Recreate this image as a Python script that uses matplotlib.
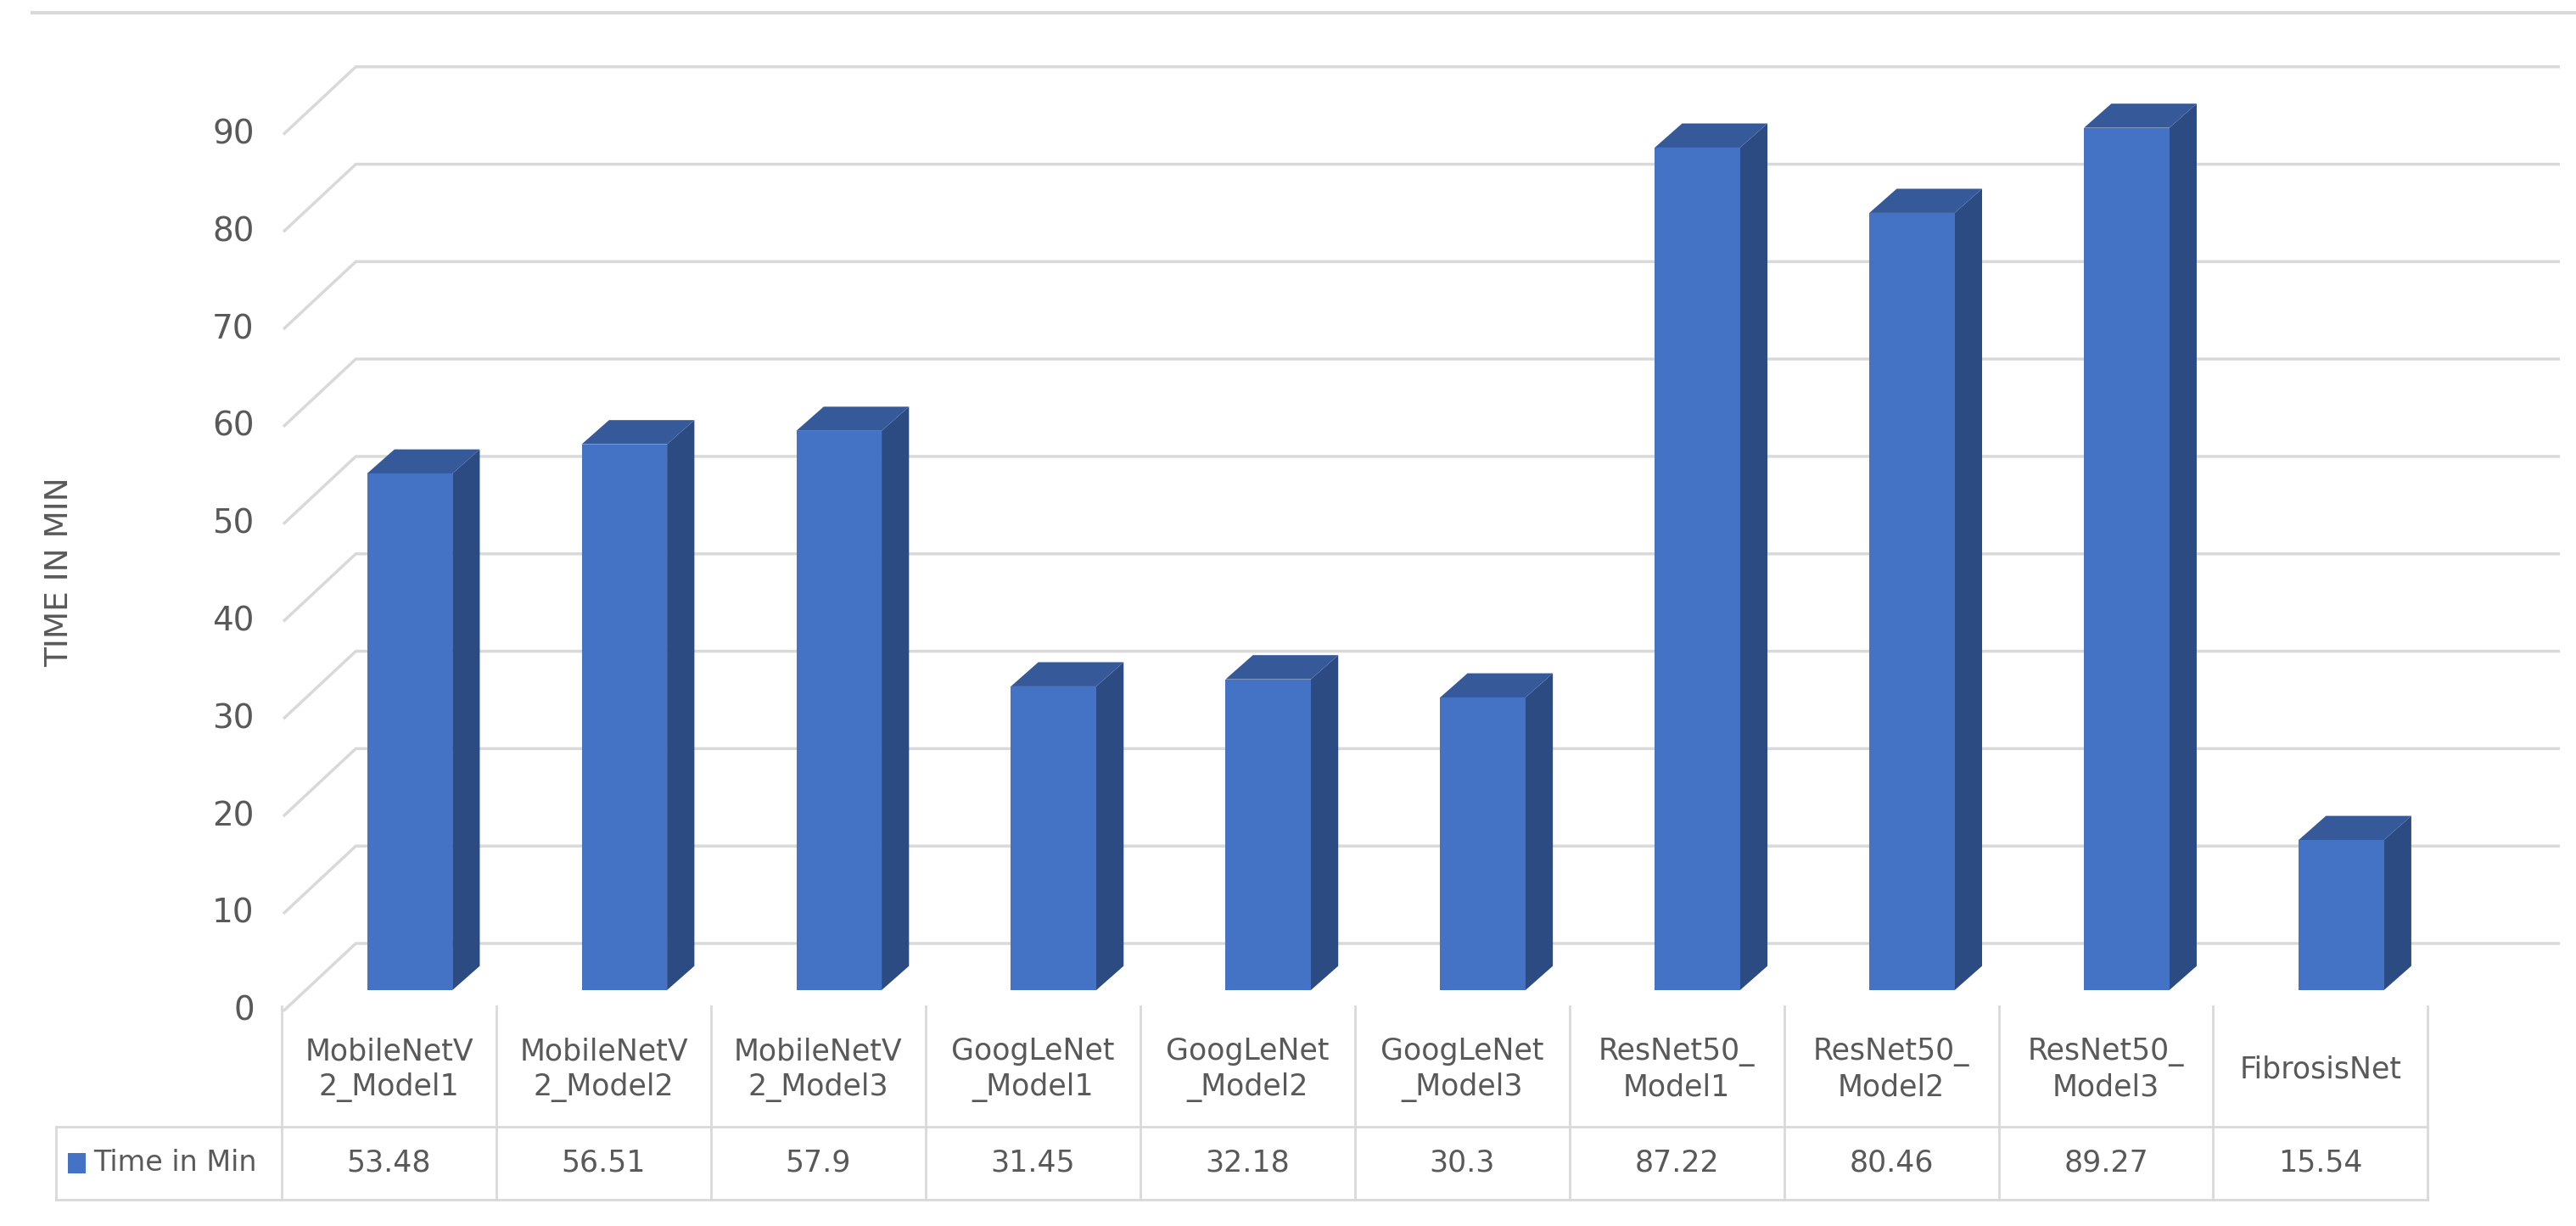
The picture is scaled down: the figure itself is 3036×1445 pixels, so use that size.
import matplotlib
matplotlib.use("Agg")
import matplotlib.pyplot as plt
from matplotlib.patches import Polygon, Rectangle

categories = ["MobileNetV\n2_Model1", "MobileNetV\n2_Model2", "MobileNetV\n2_Model3",
              "GoogLeNet\n_Model1", "GoogLeNet\n_Model2", "GoogLeNet\n_Model3",
              "ResNet50_\nModel1", "ResNet50_\nModel2", "ResNet50_\nModel3", "FibrosisNet"]
values = [53.48, 56.51, 57.9, 31.45, 32.18, 30.3, 87.22, 80.46, 89.27, 15.54]
value_labels = ["53.48", "56.51", "57.9", "31.45", "32.18", "30.3", "87.22", "80.46", "89.27", "15.54"]
yticks = [0, 10, 20, 30, 40, 50, 60, 70, 80, 90]
series_name = "Time in Min"
axis_title = "TIME IN MIN"

W, H = 1600, 761.5
fig = plt.figure(figsize=(30.36, 14.45), dpi=100)
ax = fig.add_axes([0, 0, 1, 1])
ax.set_xlim(0, W); ax.set_ylim(H, 0); ax.axis("off")

TXT = "#595959"; GRID = "#d9d9d9"
X0, CW = 175, 133.3
def lab_y(v): return 628 - 6.05 * v
def bar_y(v): return 615 - 6.0 * v
GDX, GDY = 45, 42

ax.plot([20, W], [8, 8], color=GRID, lw=3, zorder=1)

for v in yticks:
    y = lab_y(v)
    ax.plot([X0 + 1, X0 + 1 + GDX, 1590], [y, y - GDY, y - GDY], color=GRID, lw=2.5,
            solid_capstyle="butt", zorder=1)
    ax.text(158, y, str(v), ha="right", va="center", fontsize=28, color=TXT)

DX, DY = 17, 15
for i, v in enumerate(values):
    xl = X0 + CW * i + 53
    xr = xl + 53
    yb, yt = bar_y(0), bar_y(v)
    ax.add_patch(Polygon([(xr, yb), (xr + DX, yb - DY), (xr + DX, yt - DY), (xr, yt)], closed=True,
                         fc="#2c4b82", ec="none", zorder=3))
    ax.add_patch(Polygon([(xl, yt), (xl + DX, yt - DY), (xr + DX, yt - DY), (xr, yt)], closed=True,
                         fc="#36599a", ec="none", zorder=3))
    ax.add_patch(Rectangle((xl, yt), xr - xl, yb - yt, fc="#4472c4", ec="none", zorder=4))

T0, T1, T2 = 625, 700, 745
XR = X0 + CW * len(values)
lw = 2
ax.plot([35, XR], [T1, T1], color=GRID, lw=lw)
ax.plot([35, XR], [T2, T2], color=GRID, lw=lw)
ax.plot([35, 35], [T1, T2], color=GRID, lw=lw)
for i in range(len(values) + 1):
    x = X0 + CW * i
    ax.plot([x, x], [T0, T2], color=GRID, lw=lw)
for i, (c, s) in enumerate(zip(categories, value_labels)):
    cx = X0 + CW * (i + 0.5)
    ax.text(cx, (T0 + T1) / 2 + 2, c, ha="center", va="center", fontsize=25, color=TXT, linespacing=1.3)
    ax.text(cx, (T1 + T2) / 2, s, ha="center", va="center", fontsize=25, color=TXT)
ax.add_patch(Rectangle((42, 716), 11, 13, fc="#4472c4", ec="none"))
ax.text(58, (T1 + T2) / 2, series_name, ha="left", va="center", fontsize=24, color=TXT)

ax.text(37, 355, axis_title, rotation=90, ha="center", va="center", fontsize=27, color=TXT)

fig.savefig("out.png", dpi=100, facecolor="white")
